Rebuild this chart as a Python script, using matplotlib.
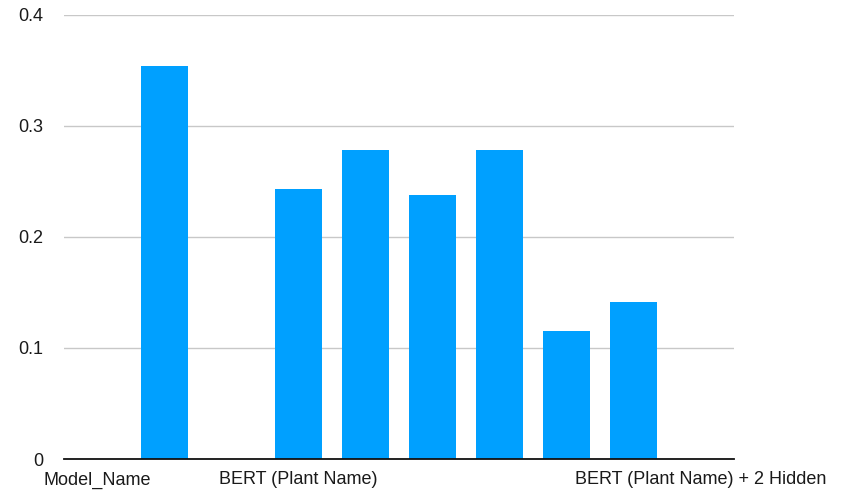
import numpy as np
import matplotlib.pyplot as plt

plt.rcParams['font.family'] = ['Liberation Sans', 'DejaVu Sans']

# slot labels as shown on the x axis (only some are printed)
categories = ["Model_Name", "", "", "BERT (Plant Name)", "", "", "", "", "",
              "BERT (Plant Name) + 2 Hidden"]
# empty slots have no bar
scores = [np.nan, 0.354, np.nan, 0.243, 0.278, 0.238, 0.278, 0.115, 0.141, np.nan]
y_ticks = [0, 0.1, 0.2, 0.3, 0.4]
y_tick_labels = ["0", "0.1", "0.2", "0.3", "0.4"]

fig = plt.figure(figsize=(8.42, 4.91), dpi=100)
ax = fig.add_axes([64 / 842, 1 - 459 / 491, 670 / 842, 444 / 491])

x = np.arange(len(categories))
ax.bar(x, scores, width=0.7, color='#00a0ff', zorder=3)

ax.set_xlim(-0.5, len(categories) - 0.5)
ax.set_ylim(0, 0.4)
ax.set_yticks(y_ticks)
ax.set_yticklabels(y_tick_labels)
ax.set_xticks(x)
ax.set_xticklabels(categories)

ax.yaxis.grid(True, color='#c8c8c8', linewidth=1.0, zorder=0)
ax.tick_params(axis='both', length=0, labelsize=13, colors='#1a1a1a')
ax.tick_params(axis='y', pad=15)
ax.tick_params(axis='x', pad=9)
for side in ['top', 'right', 'left']:
    ax.spines[side].set_visible(False)
ax.spines['bottom'].set_color('#111111')
ax.spines['bottom'].set_linewidth(1.3)
ax.spines['bottom'].set_zorder(4)

fig.savefig('out.png', dpi=100)
